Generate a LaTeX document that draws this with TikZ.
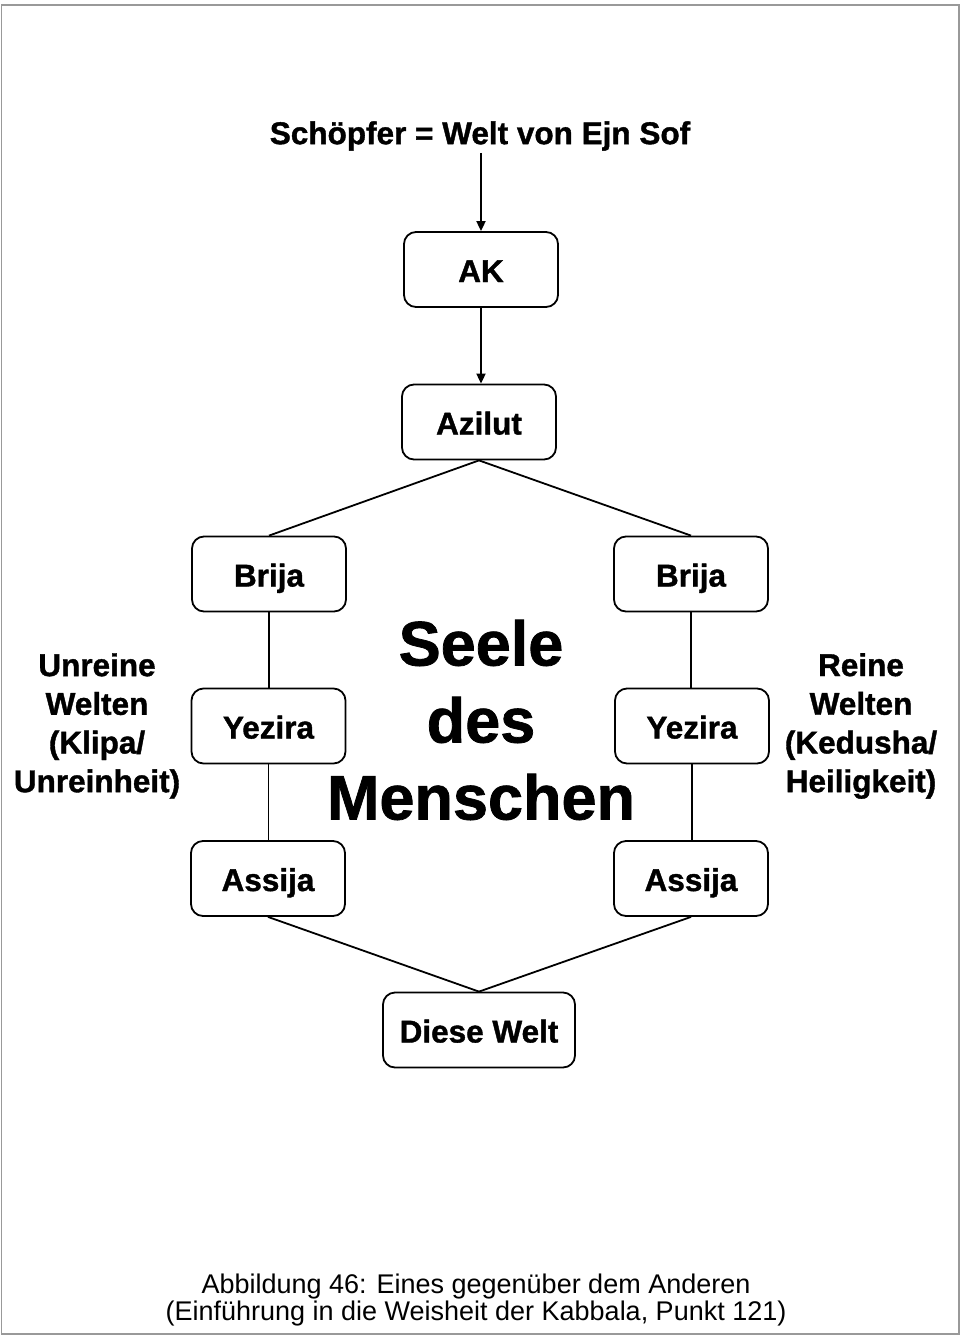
\documentclass[tikz,border=0pt]{standalone}
\usepackage{fontspec}
\setmainfont{Liberation Sans}[BoldFeatures={FakeBold=1.2}]
\usetikzlibrary{arrows.meta}
\begin{document}
\begin{tikzpicture}[x=1pt,y=-1pt,
  world/.style={draw, line width=1.8pt, rounded corners=12pt, minimum width=154pt, minimum height=75pt, inner sep=0pt, text height=25pt, text depth=0pt, font=\bfseries\fontsize{31.5}{37}\selectfont},
  conn/.style={line width=1.8pt},
  arr/.style={line width=1.8pt, -{Triangle[length=10pt,width=9pt]}},
  side/.style={align=center, font=\bfseries\fontsize{31.5}{38.7}\selectfont, inner sep=0pt}
]
\useasboundingbox (0,0) rectangle (960,1336);
\draw[gray!80, line width=1.5pt] (1.5,5) rectangle (959,1334);

\node[font=\bfseries\fontsize{31.5}{37}\selectfont, inner sep=2pt] (top) at (480,136) {Schöpfer = Welt von Ejn Sof};
\node[world] (ak) at (481,269.5) {AK};
\node[world] (az) at (479,422) {Azilut};
\node[world] (bl) at (269,574) {Brija};
\node[world] (br) at (691,574) {Brija};
\node[world] (yl) at (268.5,726) {Yezira};
\node[world] (yr) at (692,726) {Yezira};
\node[world] (al) at (268,878.5) {Assija};
\node[world] (ar) at (691,878.5) {Assija};
\node[world, minimum width=192pt] (dw) at (479,1030) {Diese Welt};

\node[align=center, font=\bfseries\fontsize{63}{77}\selectfont, inner sep=0pt] (seele) at (481,720) {Seele\\des\\Menschen};
\node[side] (unrein) at (97,726) {Unreine\\Welten\\(Klipa/\\Unreinheit)};
\node[side] (rein) at (861,726) {Reine\\Welten\\(Kedusha/\\Heiligkeit)};

\node[align=center, font=\fontsize{27}{24}\selectfont, inner sep=0pt] (cap) at (476,1300) {Abbildung 46: Eines gegenüber dem Anderen\\(Einführung in die Weisheit der Kabbala, Punkt 121)};

\draw[arr] (top.south -| ak.north) -- (ak.north);
\draw[arr] (ak.south) -- (ak.south |- az.north);
\draw[conn] (az.south) -- (bl.north);
\draw[conn] (az.south) -- (br.north);
\draw[conn] (bl.south) -- (bl.south |- yl.north);
\draw[conn] (br.south) -- (br.south |- yr.north);
\draw[conn] (yl.south) -- (yl.south |- al.north);
\draw[conn] (yr.south) -- (yr.south |- ar.north);
\draw[conn] (al.south) -- (dw.north);
\draw[conn] (ar.south) -- (dw.north);
\end{tikzpicture}
\end{document}
